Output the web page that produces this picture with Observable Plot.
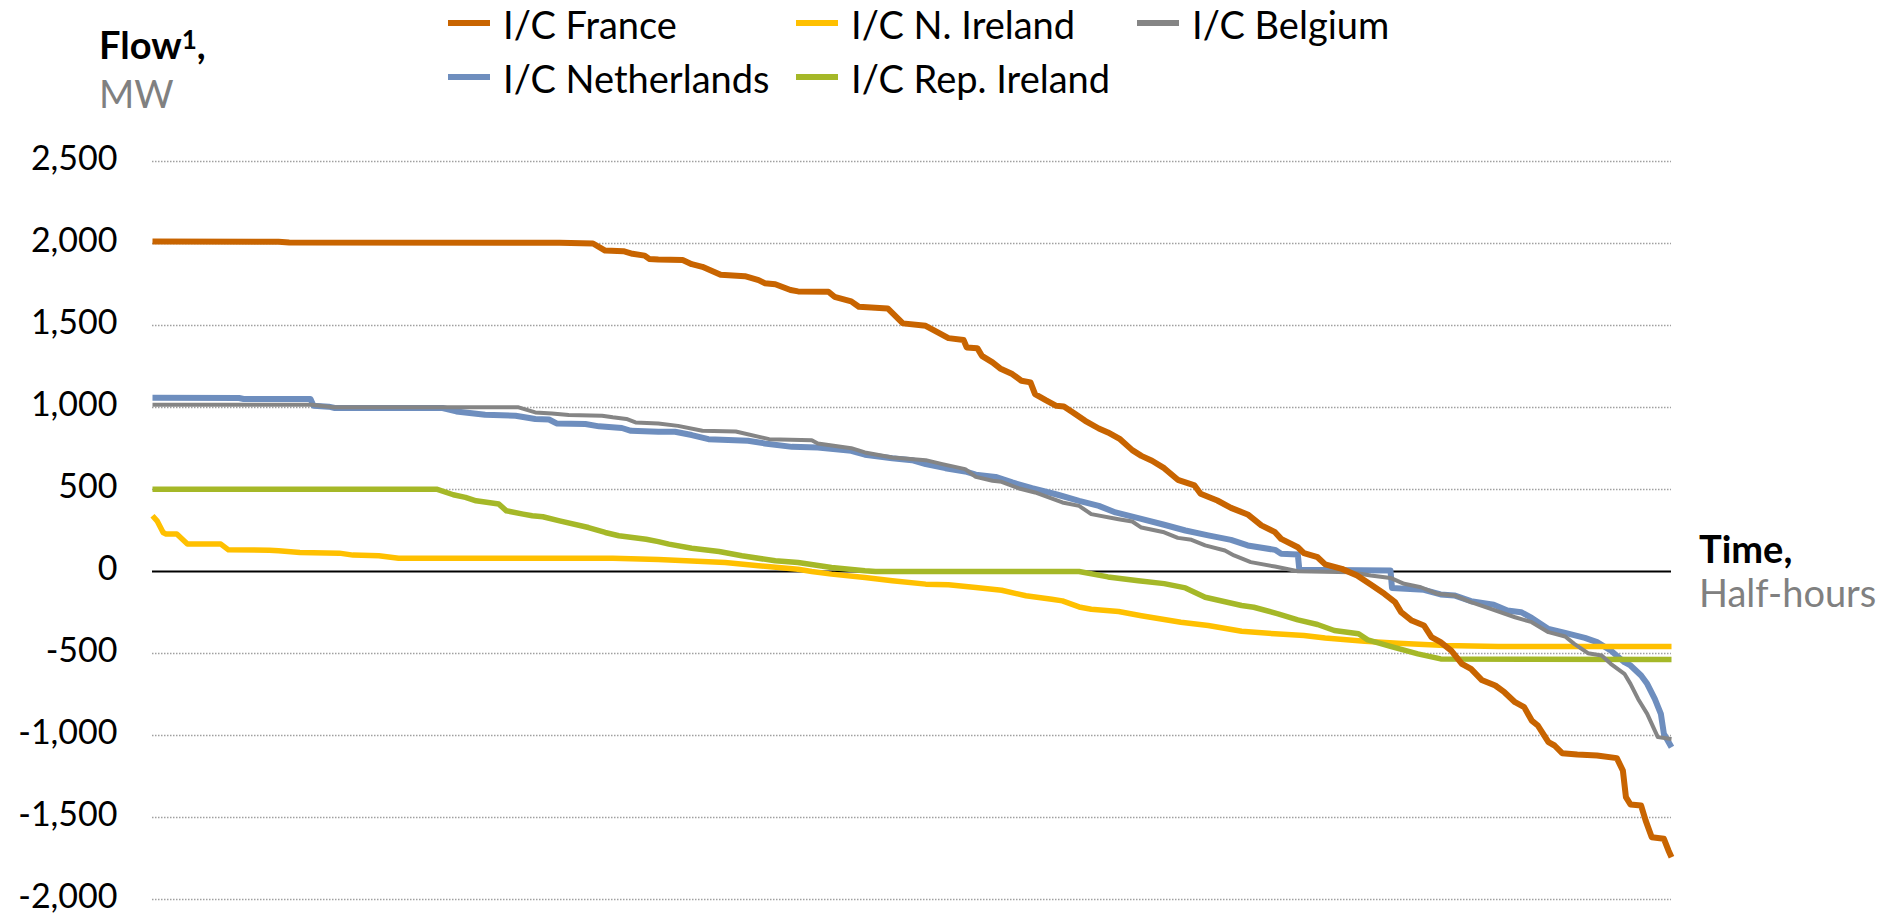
<!DOCTYPE html>
<html>
<head>
<meta charset="utf-8">
<script src="https://cdn.jsdelivr.net/npm/d3@7"></script>
<script src="https://cdn.jsdelivr.net/npm/@observablehq/plot@0.6"></script>
<style>
  body { margin: 0; background: #fff; font-family: Lato, "Open Sans", sans-serif; }
  #wrap { position: relative; width: 1882px; height: 915px; overflow: hidden; background: #fff; }
  #header { position: relative; width: 1882px; height: 120px; }
  .lbl { position: absolute; font-size: 38px; line-height: 44px; white-space: nowrap; color: #000; }
  .sub { color: #808080; }
  .sup { font-size: 26px; position: relative; top: -10px; }
  .sw { position: absolute; width: 42px; height: 6px; }
  #chart svg { display: block; }
</style>
</head>
<body>
<div id="wrap">
  <div id="header"></div>
  <div id="chart"></div>
</div>
<script>
// ---------------- DATA (x = share of half-hours, %, sorted; y = flow, MW) ----------------
const seriesNames = ["I/C France", "I/C N. Ireland", "I/C Belgium", "I/C Netherlands", "I/C Rep. Ireland"];
const seriesColors = ["#C86400", "#FFC000", "#858585", "#6E8EBE", "#A5B828"];
const yTicks = [-2000, -1500, -1000, -500, 0, 500, 1000, 1500, 2000, 2500];

const france = [[0,2012],[8.3,2010],[9,2006],[26.8,2005],[29,2000],[29.8,1957],[31,1953],[31.6,1937],[32.4,1926],[32.7,1906],[33.3,1902],[34.9,1899],[35.5,1874],[36.2,1858],[36.8,1834],[37.4,1809],[39.0,1801],[39.9,1777],[40.3,1758],[41.0,1752],[42.0,1716],[42.5,1708],[44.5,1706],[44.9,1675],[46.0,1647],[46.5,1614],[48.4,1604],[49.4,1513],[50.9,1498],[51.7,1458],[52.4,1423],[53.4,1411],[53.6,1366],[54.3,1362],[54.6,1315],[55.3,1275],[55.8,1238],[56.6,1204],[57.2,1163],[57.8,1153],[58.1,1082],[58.8,1045],[59.5,1010],[60.0,1006],[60.6,970],[61.4,919],[62.3,872],[62.9,848],[63.7,807],[64.5,740],[65.1,705],[65.8,675],[66.6,630],[67.5,559],[68.6,525],[69.0,474],[70.1,433],[71.0,388],[72.1,348],[73.0,281],[73.9,240],[74.3,199],[75.4,148],[75.8,112],[76.7,87],[77.2,43],[78.3,16],[79.3,-24],[80.2,-79],[81.1,-136],[81.8,-187],[82.2,-248],[82.9,-299],[83.7,-329],[84.2,-400],[84.8,-431],[85.5,-482],[86.2,-563],[86.8,-594],[87.5,-661],[88.4,-695],[89.0,-736],[89.7,-797],[90.3,-827],[90.8,-909],[91.2,-939],[91.9,-1041],[92.3,-1061],[92.8,-1108],[93.8,-1116],[95.1,-1122],[96.4,-1138],[96.8,-1214],[97.0,-1376],[97.3,-1421],[98.0,-1427],[98.3,-1519],[98.7,-1620],[99.5,-1630],[99.8,-1701],[100,-1742]];

const netherlands = [[0,1060],[5.7,1058],[6,1052],[10.4,1052],[10.6,1011],[11.6,1005],[12,997],[19.1,997],[20,976],[21.9,956],[23.9,950],[25.2,930],[26.1,927],[26.6,903],[28.5,899],[29.4,885],[30.9,875],[31.5,858],[33.3,852],[34.4,852],[35.5,832],[36.6,807],[39.2,797],[40.3,781],[42.1,760],[43.8,756],[46.0,736],[46.9,712],[48.7,691],[50.0,679],[50.9,655],[52.2,630],[53.5,610],[54.2,590],[55.5,577],[56.6,543],[57.9,508],[59.6,468],[61.0,431],[62.3,400],[63.4,360],[64.9,325],[66.6,285],[68.0,250],[69.5,220],[71.0,193],[72.1,159],[73.9,132],[74.3,108],[75.4,104],[75.5,10],[81.5,6],[81.6,-100],[83.7,-112],[84.8,-140],[85.7,-146],[86.8,-181],[88.3,-203],[89.2,-238],[90.1,-248],[90.8,-283],[91.9,-350],[93.0,-374],[94.3,-405],[95.1,-431],[96.0,-482],[96.9,-553],[97.3,-573],[98.0,-634],[98.4,-685],[98.9,-777],[99.3,-868],[99.5,-990],[100,-1071]];

const belgium = [[0,1017],[10.5,1017],[11.9,1001],[24.1,1001],[25.2,970],[26.3,964],[27.4,954],[29.6,950],[30.3,940],[31.2,930],[31.8,909],[33.3,903],[34.6,888],[36.2,858],[38.4,854],[40.6,807],[43.4,801],[43.8,781],[46.0,752],[46.9,726],[48.7,695],[50.9,679],[52.0,655],[53.5,624],[54.2,577],[55.3,553],[55.9,547],[57.0,508],[58.1,482],[59.9,421],[61.0,400],[61.8,350],[63.6,319],[64.5,305],[65.1,268],[66.6,239],[67.5,205],[68.4,193],[69.3,159],[70.6,128],[71.2,98],[72.3,57],[73.9,30],[75.4,2],[78.9,-4],[80.2,-24],[81.5,-39],[82.4,-75],[83.5,-96],[84.6,-136],[85.7,-146],[86.8,-187],[88.1,-228],[89.7,-279],[90.8,-309],[91.9,-370],[93.0,-396],[93.6,-441],[94.5,-498],[95.4,-512],[96.0,-563],[96.9,-624],[97.3,-685],[97.8,-777],[98.4,-868],[99.1,-1010],[100,-1021]];

const repIreland = [[0,502],[18.7,502],[19.8,468],[20.6,452],[21.3,431],[22.8,411],[23.3,370],[24.4,350],[25.0,340],[25.7,334],[26.8,309],[28.7,268],[29.8,238],[30.7,218],[32.5,197],[33.3,182],[34.0,167],[35.5,142],[37.3,122],[38.8,96],[41.0,65],[42.5,55],[44.7,24],[46.9,4],[47.6,0],[61.0,0],[62.9,-33],[64.9,-57],[66.6,-74],[68.0,-100],[69.3,-157],[71.7,-207],[72.5,-218],[74.1,-258],[75.4,-295],[76.7,-323],[77.8,-360],[79.4,-380],[80.0,-417],[81.5,-457],[83.3,-502],[84.8,-533],[100,-537]];

const nIreland = [[0,340],[0.3,309],[0.7,238],[0.9,228],[1.6,228],[2.3,167],[4.5,167],[5.0,132],[7.7,130],[8.3,126],[9.7,116],[12.3,112],[13.2,100],[14.9,96],[16.2,81],[30.3,81],[33.3,73],[37.7,55],[39.9,35],[42.5,14],[43.4,0],[44.7,-16],[46.9,-37],[48.7,-57],[50.9,-77],[52.4,-81],[54.2,-98],[55.9,-114],[57.5,-148],[59.2,-169],[59.9,-179],[61.0,-216],[61.8,-230],[63.6,-244],[65.1,-270],[66.6,-293],[67.7,-309],[69.5,-329],[71.7,-364],[73.9,-380],[75.8,-390],[77.2,-405],[79.8,-425],[82.0,-437],[85.1,-451],[88.6,-457],[100,-457]];

// ---------------- BUILD ----------------
const seriesData = {
  "I/C France": france,
  "I/C N. Ireland": nIreland,
  "I/C Belgium": belgium,
  "I/C Netherlands": netherlands,
  "I/C Rep. Ireland": repIreland
};
const colorOf = Object.fromEntries(seriesNames.map((n, i) => [n, seriesColors[i]]));
const widthOf = {"I/C France": 6, "I/C N. Ireland": 5.5, "I/C Belgium": 4, "I/C Netherlands": 6, "I/C Rep. Ireland": 5.5};
const drawOrder = ["I/C Netherlands", "I/C N. Ireland", "I/C Rep. Ireland", "I/C Belgium", "I/C France"];

const rows = [];
for (const name of seriesNames) for (const [x, y] of seriesData[name]) rows.push({series: name, x, y});

const fmt = d => d.toLocaleString("en-US");

const chart = Plot.plot({
  width: 1882,
  height: 795,
  marginLeft: 152,
  marginRight: 211,
  marginTop: 41,
  marginBottom: 16,
  x: {domain: [0, 100], axis: null},
  y: {domain: [-2000, 2500], axis: null},
  style: {fontFamily: "Lato, sans-serif", background: "#fff", color: "#000", overflow: "visible"},
  marks: [
    Plot.ruleY(yTicks.filter(d => d !== 0), {stroke: "#a0a0a0", strokeWidth: 1.5, strokeDasharray: "1.5,1.5"}),
    Plot.ruleY([0], {stroke: "#000", strokeWidth: 2.2}),
    Plot.axisY(yTicks, {anchor: "left", tickSize: 0, tickPadding: 35, tickFormat: fmt, fontSize: 34, label: null, fill: "#000", dy: -2}),
    ...drawOrder.map(name => Plot.line(rows.filter(r => r.series === name), {
      x: "x", y: "y", stroke: colorOf[name], strokeWidth: widthOf[name],
      strokeLinejoin: "round", strokeLinecap: "butt"
    }))
  ]
});
document.getElementById("chart").appendChild(chart);

// ---------------- HEADER: axis titles + legend ----------------
const header = document.getElementById("header");
const wrap = document.getElementById("wrap");
function addText(parent, html, left, top, cls) {
  const d = document.createElement("div");
  d.className = "lbl" + (cls ? " " + cls : "");
  d.innerHTML = html;
  d.style.left = left + "px";
  d.style.top = top + "px";
  parent.appendChild(d);
  return d;
}
addText(header, "<b>Flow<span class=\"sup\">1</span>,</b><br><span class=\"sub\">MW</span>", 99, 22);

const legendCols = [448, 796, 1137];
const legendRowsY = [22.7, 77.3];
seriesNames.forEach((name, i) => {
  const col = i % 3, row = Math.floor(i / 3);
  const sw = document.createElement("div");
  sw.className = "sw";
  sw.style.background = colorOf[name];
  sw.style.left = legendCols[col] + "px";
  sw.style.top = (legendRowsY[row] - 3) + "px";
  header.appendChild(sw);
  addText(header, name, legendCols[col] + 55, legendRowsY[row] - 21);
});

addText(wrap, "<b>Time,</b><br><span class=\"sub\">Half-hours</span>", 1699, 526);
</script>
</body>
</html>
